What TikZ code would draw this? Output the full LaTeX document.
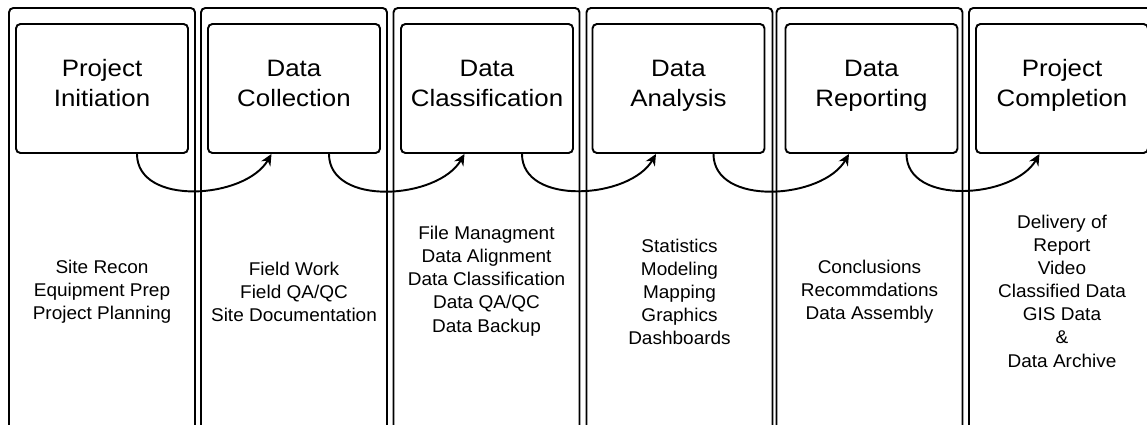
\documentclass[tikz,border=0pt]{standalone}
\usepackage{fontspec}
\setmainfont{Liberation Sans}[FakeStretch=1.03]
\newfontfamily\phasefont{Liberation Sans}[FakeStretch=1.09]
\usetikzlibrary{arrows.meta}
\begin{document}
\begin{tikzpicture}[x=0.02cm, y=0.02cm]
  \tikzstyle{lane} = [draw, line width=1.1pt, rounded corners=2.5pt, anchor=north, minimum width=3.72cm, minimum height=9cm]
  \tikzstyle{phase} = [draw, line width=1.1pt, rounded corners=2.5pt, minimum width=3.44cm, minimum height=2.58cm, align=center, text depth=6pt, font=\phasefont\fontsize{13.5}{17}\selectfont]
  \tikzstyle{tasks} = [align=center, font=\fontsize{10.5}{13.2}\selectfont]
  \tikzstyle{handoff} = [->, >={Stealth[length=6.5pt, width=6pt]}, line width=1.1pt]
  \useasboundingbox (0,0) rectangle (1147,424);
  \clip (0,0) rectangle (1147,424);
  % swim lanes
  \node[lane] (L1) at (102,417) {};
  \node[lane] (L2) at (294,417) {};
  \node[lane] (L3) at (486.5,417) {};
  \node[lane] (L4) at (679.5,417) {};
  \node[lane] (L5) at (869.5,417) {};
  \node[lane] (L6) at (1062,417) {};
  % phases
  \node[phase] (P1) at (102,335.5) {Project\\Initiation};
  \node[phase] (P2) at (294,335.5) {Data\\Collection};
  \node[phase] (P3) at (487,335.5) {Data\\Classification};
  \node[phase] (P4) at (678.5,335.5) {Data\\Analysis};
  \node[phase] (P5) at (871.5,335.5) {Data\\Reporting};
  \node[phase] (P6) at (1062,335.5) {Project\\Completion};
  % what happens in each phase
  \node[tasks] (T1) at (102,132) {Site Recon\\Equipment Prep\\Project Planning};
  \node[tasks] (T2) at (294,132) {Field Work\\Field QA/QC\\Site Documentation};
  \node[tasks] (T3) at (486.5,143) {File Managment\\Data Alignment\\Data Classification\\Data QA/QC\\Data Backup};
  \node[tasks] (T4) at (679.5,132) {Statistics\\Modeling\\Mapping\\Graphics\\Dashboards};
  \node[tasks] (T5) at (869.5,132) {Conclusions\\Recommdations\\Data Assembly};
  \node[tasks] (T6) at (1062,133) {Delivery of\\Report\\Video\\Classified Data\\GIS Data\\\&\\Data Archive};
  % hand-offs between phases
  \draw[handoff] ([xshift=0.7cm]P1.south) to[out=-90, in=-120] ([xshift=-0.45cm]P2.south);
  \draw[handoff] ([xshift=0.7cm]P2.south) to[out=-90, in=-120] ([xshift=-0.45cm]P3.south);
  \draw[handoff] ([xshift=0.7cm]P3.south) to[out=-90, in=-120] ([xshift=-0.45cm]P4.south);
  \draw[handoff] ([xshift=0.7cm]P4.south) to[out=-90, in=-120] ([xshift=-0.45cm]P5.south);
  \draw[handoff] ([xshift=0.7cm]P5.south) to[out=-90, in=-120] ([xshift=-0.45cm]P6.south);
\end{tikzpicture}
\end{document}
